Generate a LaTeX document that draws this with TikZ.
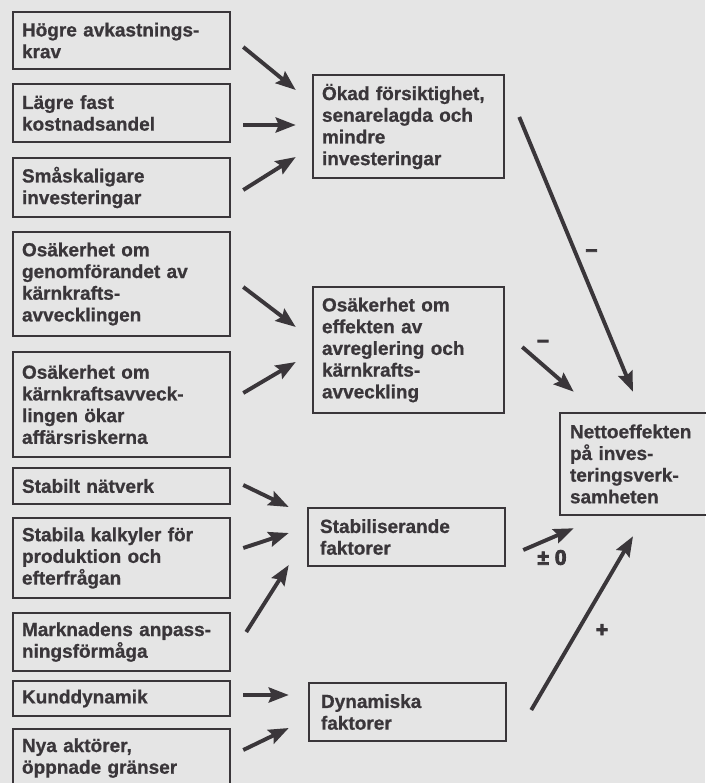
\documentclass[tikz,border=0pt]{standalone}
\usepackage{fontspec}
\setmainfont{Liberation Sans}
\newfontfamily\boxfont{Liberation Sans Bold}[FakeBold=0.8]
\newfontfamily\signfont{Liberation Sans Bold}[FakeBold=4]
\usetikzlibrary{arrows.meta}
\definecolor{paper}{RGB}{229,229,229}
\definecolor{ink}{RGB}{58,54,58}

\begin{document}
\begin{tikzpicture}[x=1pt,y=-1pt]
\tikzset{box/.style={draw=ink,line width=2.5pt,text=ink,align=left,inner xsep=9pt,inner ysep=0pt,font=\boxfont\fontsize{19}{21.7}\selectfont},
  lbox/.style={box,minimum width=217pt,text width=199pt},
  mbox/.style={box,minimum width=191pt,text width=173pt},
  arr/.style={draw=ink,line width=3.9pt,-{Stealth[length=20pt,width=15pt,inset=3pt]}},
  sign/.style={text=ink,inner sep=0pt,font=\signfont\fontsize{21}{24}\selectfont}}
\useasboundingbox (0,0) rectangle (705,783);
\fill[paper] (0,0) rectangle (705,783);
% causes, left column
\node[lbox,minimum height=57pt] (b1) at (121.5,40.5) {Högre avkastnings-\\krav};
\node[lbox,minimum height=58pt] (b2) at (121.5,113) {Lägre fast\\kostnadsandel};
\node[lbox,minimum height=59pt] (b3) at (121.5,187.5) {Småskaligare\\investeringar};
\node[lbox,minimum height=104pt] (b4) at (121.5,284) {Osäkerhet om\\genomförandet av\\kärnkrafts-\\avvecklingen};
\node[lbox,minimum height=105pt] (b5) at (121.5,404.5) {Osäkerhet om\\kärnkraftsavveck-\\lingen ökar\\affärsriskerna};
\node[lbox,minimum height=36pt] (b6) at (121.5,486) {Stabilt nätverk};
\node[lbox,minimum height=80pt] (b7) at (121.5,558) {Stabila kalkyler för\\produktion och\\efterfrågan};
\node[lbox,minimum height=58pt] (b8) at (121.5,642) {Marknadens anpass-\\ningsförmåga};
\node[lbox,minimum height=35pt] (b9) at (121.5,698.5) {Kunddynamik};
\node[lbox,minimum height=58pt] (b10) at (121.5,758) {Nya aktörer,\\öppnade gränser};
% effects, middle column
\node[mbox,minimum height=103pt] (m1) at (408.5,126.5) {Ökad försiktighet,\\senarelagda och\\mindre\\investeringar};
\node[mbox,minimum height=126pt] (m2) at (408.5,350) {Osäkerhet om\\effekten av\\avreglering och\\kärnkrafts-\\avveckling};
\node[mbox,minimum width=197pt,minimum height=58pt] (m3) at (406.5,537) {Stabiliserande\\faktorer};
\node[mbox,minimum width=197pt,minimum height=58pt] (m4) at (407.5,712) {Dynamiska\\faktorer};
% net effect
\node[box,inner xsep=10pt,minimum width=148pt,text width=128pt,minimum height=102pt] (r) at (634,464) {Nettoeffekten\\på inves-\\teringsverk-\\samheten};
% arrows into the middle column
\foreach \f/\fx/\fy/\t/\tx/\ty in {b1/12/6.5/m1/-16/-36.5, b2/12/12/m1/-16/-1.5, b3/12/2.5/m1/-16/30.5,
    b4/12/3/m2/-16/-23, b5/12/-11.5/m2/-16/12,
    b6/12/-1/m3/-18/-30, b7/12/-10/m3/-18/-4, b8/15/-10/m3/-18/28,
    b9/12/-3.5/m4/-19/-17, b10/12/-8/m4/-19/16}
    \draw[arr] ([shift={(\fx,\fy)}]\f.east) -- ([shift={(\tx,\ty)}]\t.west);
% arrows into the net effect
\draw[arr] ([shift={(14,-9.5)}]m1.east) -- ([shift={(-1,-20)}]r.north);
\draw[arr] ([shift={(17,-3)}]m2.east) -- ([shift={(15,-20)}]r.north west);
\draw[arr] ([shift={(17,13)}]m3.east) -- ([shift={(15,12)}]r.south west);
\draw[arr] ([shift={(24,-2)}]m4.east) -- ([shift={(-1,20)}]r.south);
\node[sign] (s1) at (591.5,253) {–};
\node[sign] (s2) at (543,343.5) {–};
\node[sign] (s3) at (552,557.5) {± 0};
\node[sign] (s4) at (602,630.5) {+};
\end{tikzpicture}
\end{document}
